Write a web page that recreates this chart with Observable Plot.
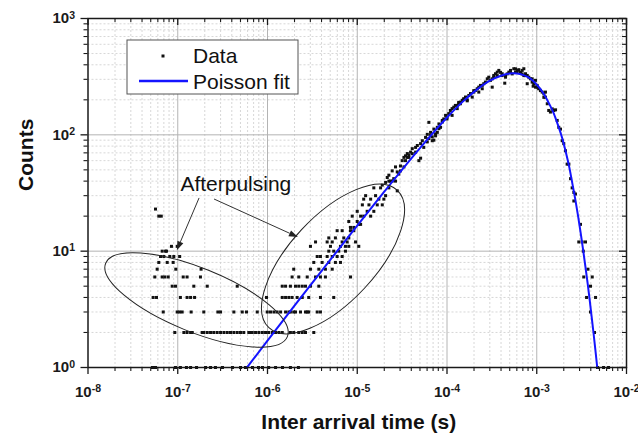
<!DOCTYPE html>
<html><head><meta charset="utf-8">
<script src="https://cdn.jsdelivr.net/npm/d3@7"></script>
<script src="https://cdn.jsdelivr.net/npm/@observablehq/plot@0.6"></script>
<style>
html,body{margin:0;padding:0;background:#fff;}
#chart{width:638px;height:434px;}
</style></head><body><div id="chart"></div>
<script>
// ---- tick values ----
const majorX = [1e-8, 1e-7, 1e-6, 1e-5, 1e-4, 1e-3, 1e-2];
const majorY = [1, 10, 100, 1000];
const minorMult = [2, 3, 4, 5, 6, 7, 8, 9];

// ---- texts ----
const xLabel = "Inter arrival time (s)";
const yLabel = "Counts";
const legendLabels = ["Data", "Poisson fit"];
const annotationText = "Afterpulsing";

// ---- low-count data (integer rows): counts and inter-arrival times (s) ----
const rowCounts = [1, 2, 3, 4, 5, 6, 7, 8, 9, 10, 11, 12, 13, 15, 16, 17, 18, 20, 22, 23, 25, 28, 30, 35, 40];
const rowTimes = [
  [5.23e-8, 5.65e-8, 9.44e-8, 1.07e-7, 1.25e-7, 1.39e-7, 1.62e-7, 2.04e-7, 2.32e-7, 2.63e-7, 3.15e-7, 4.07e-7, 5.00e-7, 5.69e-7, 6.81e-7, 7.94e-7, 8.79e-7, 1.03e-6, 1.23e-6, 1.47e-6, 1.80e-6, 2.21e-6, 4.75e-3, 5.55e-3, 6.31e-3],
  [9.27e-8, 1.17e-7, 1.27e-7, 1.39e-7, 1.45e-7, 1.87e-7, 1.95e-7, 2.13e-7, 2.32e-7, 2.52e-7, 2.75e-7, 3.00e-7, 3.27e-7, 3.56e-7, 3.87e-7, 4.22e-7, 4.60e-7, 5.00e-7, 5.44e-7, 6.19e-7, 6.47e-7, 6.76e-7, 7.36e-7, 8.01e-7, 8.75e-7, 9.51e-7, 1.03e-6, 1.13e-6, 1.23e-6, 1.34e-6, 1.46e-6, 1.80e-6, 1.96e-6, 2.23e-6, 2.44e-6, 2.65e-6, 3.28e-6, 4.40e-3],
  [6.89e-8, 9.86e-8, 1.05e-7, 1.12e-7, 1.41e-7, 1.95e-7, 2.80e-7, 3.00e-7, 4.22e-7, 5.23e-7, 5.83e-7, 7.69e-7, 9.93e-7, 1.08e-6, 1.18e-6, 1.28e-6, 1.40e-6, 1.59e-6, 1.73e-6, 1.80e-6, 1.96e-6, 2.05e-6, 2.33e-6, 2.65e-6, 2.77e-6, 2.88e-6, 3.58e-6, 3.89e-6, 3.97e-3],
  [5.32e-8, 5.80e-8, 1.07e-7, 1.27e-7, 1.39e-7, 1.54e-7, 9.75e-7, 1.46e-6, 1.59e-6, 1.73e-6, 1.88e-6, 2.14e-6, 2.44e-6, 2.88e-6, 3.89e-6, 5.47e-6, 3.59e-3, 4.52e-3],
  [8.67e-8, 9.44e-8, 1.51e-7, 2.13e-7, 4.60e-7, 1.46e-6, 1.59e-6, 1.80e-6, 2.05e-6, 2.23e-6, 2.44e-6, 2.65e-6, 3.01e-6, 3.73e-6, 3.97e-3],
  [5.55e-8, 6.71e-8, 7.18e-8, 7.83e-8, 1.15e-7, 1.27e-7, 1.79e-7, 1.88e-6, 2.23e-6, 2.77e-6, 3.43e-6, 3.89e-6, 4.42e-6, 8.41e-6, 3.34e-3, 4.15e-3],
  [5.90e-8, 9.51e-8, 1.82e-7, 1.96e-6, 3.01e-6, 3.73e-6, 4.42e-6, 5.26e-6, 3.72e-3],
  [6.15e-8, 7.63e-8, 8.89e-8, 3.28e-6, 4.06e-6, 4.82e-6, 5.71e-6, 6.50e-6],
  [6.43e-8, 7.00e-8, 8.15e-8, 9.04e-8, 1.05e-7, 3.58e-6, 3.89e-6, 4.62e-6, 5.26e-6, 5.97e-6, 6.79e-6],
  [6.71e-8, 7.31e-8, 7.50e-8, 4.82e-6, 5.47e-6, 6.22e-6, 7.39e-6, 3.30e-3],
  [8.51e-8, 9.86e-8, 3.01e-6, 5.03e-6, 6.50e-6, 7.39e-6, 8.05e-6, 1.04e-5],
  [3.43e-6, 4.62e-6, 5.26e-6, 6.79e-6, 7.72e-6, 9.57e-6, 2.94e-3, 3.21e-3, 3.49e-3],
  [4.82e-6, 5.71e-6, 7.08e-6, 8.05e-6],
  [5.97e-6, 6.79e-6, 8.41e-6, 9.16e-6],
  [8.41e-6, 9.16e-6],
  [1.04e-5, 1.09e-5, 3.07e-3],
  [8.05e-6, 9.99e-6],
  [6.15e-8, 6.55e-8, 8.79e-6, 1.09e-5, 1.18e-5, 1.41e-5],
  [9.99e-6, 1.29e-5, 1.53e-5],
  [5.65e-8],
  [1.14e-5, 1.35e-5, 1.67e-5, 1.90e-5],
  [1.18e-5, 1.41e-5, 1.74e-5, 1.98e-5],
  [1.24e-5, 1.60e-5, 2.07e-5],
  [1.53e-5, 1.82e-5, 2.25e-5],
  [2.25e-5, 2.45e-5, 2.67e-5]
];

// ---- main body of the distribution: times (s) and counts ----
const mainT = [1.90e-5, 2.07e-5, 2.16e-5, 2.25e-5, 2.35e-5, 2.45e-5, 2.55e-5, 2.67e-5, 2.79e-5, 2.79e-5, 2.90e-5, 3.03e-5, 3.03e-5, 3.17e-5, 3.31e-5, 3.31e-5, 3.45e-5, 3.45e-5, 3.61e-5, 3.61e-5, 3.76e-5, 3.76e-5, 3.93e-5, 4.10e-5, 4.10e-5, 4.47e-5, 4.47e-5, 4.67e-5, 4.86e-5, 5.08e-5, 5.08e-5, 5.31e-5, 5.51e-5, 5.77e-5, 6.03e-5, 6.03e-5, 6.28e-5, 6.28e-5, 6.56e-5, 6.56e-5, 6.85e-5, 6.85e-5, 7.14e-5, 7.14e-5, 7.46e-5, 7.46e-5, 7.80e-5, 7.80e-5, 8.13e-5, 8.13e-5, 8.47e-5, 8.87e-5, 8.87e-5, 9.21e-5, 9.64e-5, 1.00e-4, 1.00e-4, 1.05e-4, 1.05e-4, 1.09e-4, 1.14e-4, 1.14e-4, 1.19e-4, 1.24e-4, 1.30e-4, 1.30e-4, 1.35e-4, 1.35e-4, 1.41e-4, 1.41e-4, 1.48e-4, 1.54e-4, 1.54e-4, 1.61e-4, 1.61e-4, 1.68e-4, 1.68e-4, 1.75e-4, 1.83e-4, 1.83e-4, 1.91e-4, 1.99e-4, 1.99e-4, 2.08e-4, 2.17e-4, 2.26e-4, 2.26e-4, 2.36e-4, 2.47e-4, 2.47e-4, 2.57e-4, 2.68e-4, 2.81e-4, 2.92e-4, 3.05e-4, 3.19e-4, 3.19e-4, 3.32e-4, 3.32e-4, 3.47e-4, 3.63e-4, 3.63e-4, 3.78e-4, 3.95e-4, 4.12e-4, 4.12e-4, 4.40e-4, 4.49e-4, 4.49e-4, 4.69e-4, 4.89e-4, 5.10e-4, 5.10e-4, 5.33e-4, 5.55e-4, 5.80e-4, 5.80e-4, 6.05e-4, 6.05e-4, 6.31e-4, 6.59e-4, 6.88e-4, 6.88e-4, 7.18e-4, 7.18e-4, 7.50e-4, 7.50e-4, 7.83e-4, 7.83e-4, 8.15e-4, 8.51e-4, 8.89e-4, 8.89e-4, 9.12e-4, 9.27e-4, 9.68e-4, 9.68e-4, 1.01e-3, 1.01e-3, 1.05e-3, 1.10e-3, 1.10e-3, 1.15e-3, 1.20e-3, 1.20e-3, 1.25e-3, 1.25e-3, 1.31e-3, 1.36e-3, 1.42e-3, 1.49e-3, 1.55e-3, 1.62e-3, 1.69e-3, 1.76e-3, 1.84e-3, 1.92e-3, 2.00e-3, 2.09e-3, 2.18e-3, 2.28e-3, 2.38e-3, 2.48e-3, 2.59e-3, 2.59e-3, 2.70e-3];
const mainC = [37, 39, 43, 45, 40, 49, 42, 53, 33, 48, 46, 54, 49, 60, 64, 53, 66, 60, 69, 64, 64, 67, 71, 76, 69, 78, 71, 81, 60, 84, 63, 89, 78, 95, 101, 87, 128, 93, 105, 99, 89, 96, 112, 90, 98, 102, 116, 105, 124, 113, 116, 133, 129, 137, 147, 137, 142, 151, 152, 162, 147, 168, 173, 179, 179, 168, 190, 185, 185, 191, 198, 203, 204, 210, 211, 196, 200, 218, 225, 226, 211, 240, 233, 241, 249, 233, 257, 266, 266, 249, 275, 284, 303, 313, 294, 257, 303, 313, 324, 335, 323, 346, 358, 344, 323, 335, 278, 313, 324, 334, 346, 344, 358, 334, 370, 369, 346, 344, 358, 363, 344, 358, 334, 370, 323, 335, 323, 324, 275, 313, 303, 303, 284, 262, 275, 294, 257, 257, 266, 249, 240, 241, 233, 225, 210, 233, 211, 185, 162, 157, 167, 162, 164, 133, 116, 112, 89, 84, 73, 56, 56, 42, 35, 32, 27, 31];

// ---- Poisson fit curve ----
const fitT = [5.9e-7, 1e-6, 2e-6, 5e-6, 1e-5, 2e-5, 5e-5, 1e-4, 1.5e-4, 2e-4, 3e-4, 4e-4, 5e-4, 5.5e-4, 6e-4, 7e-4, 8e-4, 9e-4, 1e-3, 1.1e-3, 1.25e-3, 1.4e-3, 1.55e-3, 1.7e-3, 1.92e-3, 2.1e-3, 2.3e-3, 2.5e-3, 2.7e-3, 2.9e-3, 3.1e-3, 3.3e-3, 3.5e-3, 3.7e-3, 3.9e-3, 4.1e-3, 4.3e-3, 4.5e-3, 4.72e-3];
const fitC = [1.0, 1.7, 3.4, 8.4, 16.6, 32.5, 77, 141, 193, 234, 292, 322, 336, 338, 337, 328, 313, 293, 270, 247, 213, 180, 152, 125, 94, 72, 53, 37.7, 27.3, 19.6, 14.0, 10, 7.2, 5.2, 3.73, 2.68, 1.95, 1.42, 1.0];

// ---- annotation anchors (data coordinates) ----
const ellipseCenters = [[1.64e-7, 3.77], [5.44e-6, 8.49]];
const arrowFrom = [[1.75e-7, 28.4], [2.57e-7, 27.8]];
const arrowTo = [[9.9e-8, 10.1], [2.21e-6, 13.1]];
const annotationAt = [1.07e-7, 32.6];

// ---- build tables ----
const points = [];
rowCounts.forEach((c, i) => rowTimes[i].forEach(t => points.push({t, c})));
mainT.forEach((t, i) => points.push({t, c: mainC[i]}));
const fit = fitT.map((t, i) => ({t, c: fitC[i]}));
const minorX = majorX.slice(0, -1).flatMap(d => minorMult.map(m => d * m));
const minorY = majorY.slice(0, -1).flatMap(d => minorMult.map(m => d * m));

const W = 638, H = 434, mL = 87.5, mR = 12, mT = 18, mB = 67;
const fw = W - mL - mR, fh = H - mT - mB;
const FONT = "'Liberation Sans', Arial, Helvetica, sans-serif";
const INK = "#1a1a1a";
const fmt = d => "10^" + Math.round(Math.log10(d));

const plot = Plot.plot({
  width: W, height: H,
  marginLeft: mL, marginRight: mR, marginTop: mT, marginBottom: mB,
  x: {type: "log", domain: [1e-8, 1e-2], axis: null},
  y: {type: "log", domain: [1, 1000], axis: null},
  style: {fontFamily: FONT, background: "white", overflow: "visible"},
  marks: [
    Plot.ruleX(minorX, {x: d => d, stroke: "#d2d2d2", strokeDasharray: "2,2", strokeWidth: 0.9}),
    Plot.ruleY(minorY, {y: d => d, stroke: "#d2d2d2", strokeDasharray: "2,2", strokeWidth: 0.9}),
    Plot.ruleX(majorX.slice(1, -1), {x: d => d, stroke: "#b4b4b4", strokeWidth: 1}),
    Plot.ruleY(majorY.slice(1, -1), {y: d => d, stroke: "#b4b4b4", strokeWidth: 1}),
    Plot.dot(points, {x: "t", y: "c", symbol: "square", r: 1.7, fill: "#111"}),
    Plot.line(fit, {x: "t", y: "c", stroke: "#1414ff", strokeWidth: 2, curve: "monotone-x"}),
    Plot.text([annotationText], {x: () => annotationAt[0], y: () => annotationAt[1], text: d => d, textAnchor: "start", lineAnchor: "bottom", fontSize: 21, fill: "#111"}),
    Plot.frame({stroke: INK, strokeWidth: 1.5}),
    Plot.axisX(majorX, {anchor: "bottom", tickSize: 7, tickPadding: 12, tickFormat: fmt, label: null, color: INK, strokeWidth: 1.3}),
    Plot.axisX(minorX, {anchor: "bottom", tickSize: 4, tickFormat: () => "", label: null, color: INK, strokeWidth: 1.1}),
    Plot.axisY(majorY, {anchor: "left", tickSize: 7, tickPadding: 6, tickFormat: fmt, label: null, color: INK, strokeWidth: 1.3}),
    Plot.axisY(minorY, {anchor: "left", tickSize: 4, tickFormat: () => "", label: null, color: INK, strokeWidth: 1.1}),
    Plot.tickX(majorX, {x: d => d, insetBottom: fh - 7, stroke: INK, strokeWidth: 1.3}),
    Plot.tickX(minorX, {x: d => d, insetBottom: fh - 4, stroke: INK, strokeWidth: 1.1}),
    Plot.tickY(majorY, {y: d => d, insetLeft: fw - 7, stroke: INK, strokeWidth: 1.3}),
    Plot.tickY(minorY, {y: d => d, insetLeft: fw - 4, stroke: INK, strokeWidth: 1.1}),
    Plot.text([xLabel], {text: d => d, frameAnchor: "bottom", lineAnchor: "bottom", dy: 61, dx: 1.5, fontSize: 21, fontWeight: "bold", fill: "#111"}),
    Plot.text([yLabel], {text: d => d, frameAnchor: "left", lineAnchor: "bottom", rotate: -90, dx: -55.5, dy: -2, fontSize: 21, fontWeight: "bold", fill: "#111"})
  ]
});

// superscript exponents in tick labels
const NS = "http://www.w3.org/2000/svg";
plot.querySelectorAll("text").forEach(el => {
  const m = /^10\^(-?\d+)$/.exec(el.textContent);
  if (m) {
    el.textContent = "10";
    el.setAttribute("font-size", "15");
    el.setAttribute("font-weight", "bold");
    el.style.fontSize = "15px";
    el.style.fontWeight = "bold";
    const ts = document.createElementNS(NS, "tspan");
    ts.setAttribute("dy", "-0.45em");
    ts.setAttribute("font-size", "10.5");
    ts.style.fontSize = "10.5px";
    ts.textContent = m[1];
    el.appendChild(ts);
  }
});

// scales for annotations
const sx = plot.scale("x"), sy = plot.scale("y");
const X = sx.apply ? v => sx.apply(v) : d3.scaleLog(sx.domain, sx.range);
const Y = sy.apply ? v => sy.apply(v) : d3.scaleLog(sy.domain, sy.range);

const svg = d3.select(plot);
const ann = svg.append("g").attr("fill", "none").attr("stroke", "#222").attr("stroke-width", 1);
const ellipseShape = [[98, 32, 22], [94, 43, -47]];
ellipseCenters.forEach(([t, c], i) => {
  const [rx, ry, a] = ellipseShape[i];
  ann.append("ellipse").attr("cx", 0).attr("cy", 0).attr("rx", rx).attr("ry", ry)
    .attr("transform", `translate(${X(t)},${Y(c)}) rotate(${a})`);
});
arrowFrom.forEach((p, i) => {
  const x1 = X(p[0]), y1 = Y(p[1]), x2 = X(arrowTo[i][0]), y2 = Y(arrowTo[i][1]);
  const ang = Math.atan2(y2 - y1, x2 - x1), hl = 9, hw = 3.2;
  const bx = x2 - hl * Math.cos(ang), by = y2 - hl * Math.sin(ang);
  ann.append("line").attr("x1", x1).attr("y1", y1).attr("x2", bx).attr("y2", by).attr("stroke", "#333");
  ann.append("path").attr("fill", "#222").attr("stroke", "none")
    .attr("d", `M${x2},${y2}L${bx - hw * Math.sin(ang)},${by + hw * Math.cos(ang)}L${bx + hw * Math.sin(ang)},${by - hw * Math.cos(ang)}Z`);
});

// legend (inside plot, top-left)
const lg = svg.append("g").attr("transform", `translate(${mL + 39.5},${mT + 22})`);
lg.append("rect").attr("x", 0).attr("y", 0).attr("width", 171).attr("height", 54)
  .attr("fill", "white").attr("stroke", "#555").attr("stroke-width", 1);
lg.append("rect").attr("x", 34.5).attr("y", 14.5).attr("width", 3).attr("height", 3).attr("fill", "#111");
lg.append("line").attr("x1", 12).attr("x2", 61).attr("y1", 41).attr("y2", 41).attr("stroke", "#1414ff").attr("stroke-width", 2.5);
legendLabels.forEach((s, i) => {
  lg.append("text").attr("x", 66).attr("y", i === 0 ? 23 : 49).attr("font-size", 21)
    .attr("text-anchor", "start").style("font-size", "21px")
    .attr("font-family", FONT).attr("fill", "#111").text(s);
});

document.getElementById("chart").appendChild(plot);
</script>
</body></html>
